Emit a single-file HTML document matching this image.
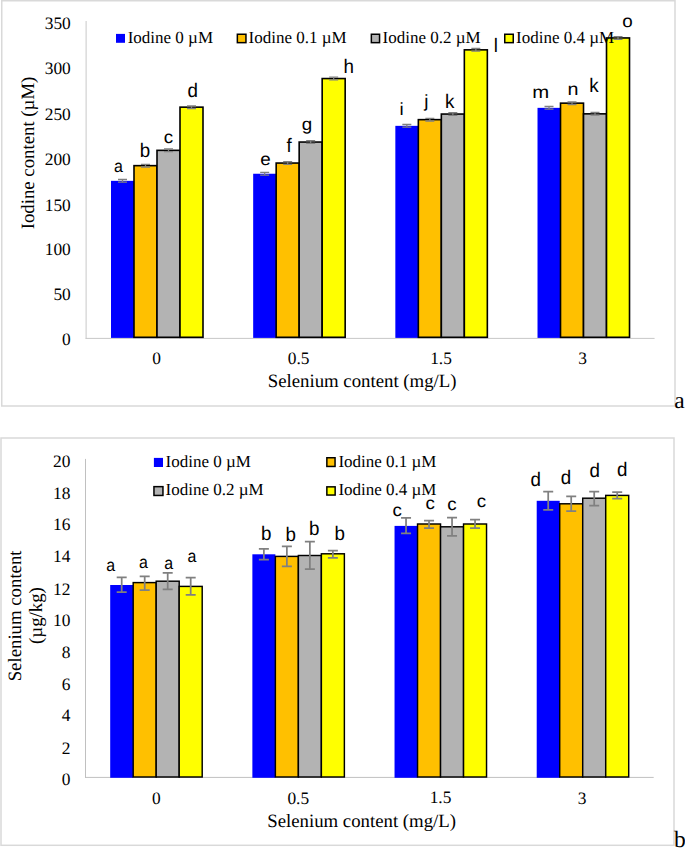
<!DOCTYPE html><html><head><meta charset="utf-8"><style>html,body{margin:0;padding:0;background:#fff;}body{width:685px;height:848px;overflow:hidden;}svg{display:block;text-rendering:geometricPrecision}</style></head><body>
<svg width="685" height="848" viewBox="0 0 685 848">
<rect width="685" height="848" fill="#fff"/>
<rect x="1.75" y="0.75" width="673.25" height="405.25" fill="none" stroke="#d9d9d9" stroke-width="1.5"/>
<line x1="86.1" y1="21.0" x2="86.1" y2="338.9" stroke="#c8c8c8" stroke-width="1"/>
<line x1="85.6" y1="338.4" x2="654.6" y2="338.4" stroke="#c8c8c8" stroke-width="1"/>
<rect x="111.00" y="180.85" width="23.00" height="157.05" fill="#0000ff"/>
<rect x="134.00" y="165.65" width="23.00" height="171.65" fill="#ffc000" stroke="#000" stroke-width="1.6"/>
<rect x="157.00" y="150.35" width="23.00" height="186.95" fill="#b3b3b3" stroke="#000" stroke-width="1.6"/>
<rect x="180.00" y="107.15" width="23.00" height="230.15" fill="#ffff00" stroke="#000" stroke-width="1.6"/>
<rect x="253.17" y="173.75" width="23.00" height="164.15" fill="#0000ff"/>
<rect x="276.17" y="163.05" width="23.00" height="174.25" fill="#ffc000" stroke="#000" stroke-width="1.6"/>
<rect x="299.17" y="142.05" width="23.00" height="195.25" fill="#b3b3b3" stroke="#000" stroke-width="1.6"/>
<rect x="322.17" y="78.55" width="23.00" height="258.75" fill="#ffff00" stroke="#000" stroke-width="1.6"/>
<rect x="395.34" y="125.85" width="23.00" height="212.05" fill="#0000ff"/>
<rect x="418.34" y="119.65" width="23.00" height="217.65" fill="#ffc000" stroke="#000" stroke-width="1.6"/>
<rect x="441.34" y="114.05" width="23.00" height="223.25" fill="#b3b3b3" stroke="#000" stroke-width="1.6"/>
<rect x="464.34" y="49.85" width="23.00" height="287.45" fill="#ffff00" stroke="#000" stroke-width="1.6"/>
<rect x="537.51" y="107.85" width="23.00" height="230.05" fill="#0000ff"/>
<rect x="560.51" y="103.15" width="23.00" height="234.15" fill="#ffc000" stroke="#000" stroke-width="1.6"/>
<rect x="583.51" y="113.85" width="23.00" height="223.45" fill="#b3b3b3" stroke="#000" stroke-width="1.6"/>
<rect x="606.51" y="37.95" width="23.00" height="299.35" fill="#ffff00" stroke="#000" stroke-width="1.6"/>
<path d="M118.00 179.5H127.00M118.00 182.2H127.00M122.50 179.5V182.2" stroke="#808080" stroke-width="1.3" fill="none"/>
<path d="M141.00 164.3H150.00M141.00 167.0H150.00M145.50 164.3V167.0" stroke="#808080" stroke-width="1.3" fill="none"/>
<path d="M164.00 149.0H173.00M164.00 151.7H173.00M168.50 149.0V151.7" stroke="#808080" stroke-width="1.3" fill="none"/>
<path d="M187.00 105.8H196.00M187.00 108.5H196.00M191.50 105.8V108.5" stroke="#808080" stroke-width="1.3" fill="none"/>
<path d="M260.17 172.4H269.17M260.17 175.1H269.17M264.67 172.4V175.1" stroke="#808080" stroke-width="1.3" fill="none"/>
<path d="M283.17 161.7H292.17M283.17 164.4H292.17M287.67 161.7V164.4" stroke="#808080" stroke-width="1.3" fill="none"/>
<path d="M306.17 140.7H315.17M306.17 143.4H315.17M310.67 140.7V143.4" stroke="#808080" stroke-width="1.3" fill="none"/>
<path d="M329.17 77.2H338.17M329.17 79.9H338.17M333.67 77.2V79.9" stroke="#808080" stroke-width="1.3" fill="none"/>
<path d="M402.34 124.5H411.34M402.34 127.2H411.34M406.84 124.5V127.2" stroke="#808080" stroke-width="1.3" fill="none"/>
<path d="M425.34 118.3H434.34M425.34 121.0H434.34M429.84 118.3V121.0" stroke="#808080" stroke-width="1.3" fill="none"/>
<path d="M448.34 112.7H457.34M448.34 115.4H457.34M452.84 112.7V115.4" stroke="#808080" stroke-width="1.3" fill="none"/>
<path d="M471.34 48.5H480.34M471.34 51.2H480.34M475.84 48.5V51.2" stroke="#808080" stroke-width="1.3" fill="none"/>
<path d="M544.51 106.5H553.51M544.51 109.2H553.51M549.01 106.5V109.2" stroke="#808080" stroke-width="1.3" fill="none"/>
<path d="M567.51 101.8H576.51M567.51 104.5H576.51M572.01 101.8V104.5" stroke="#808080" stroke-width="1.3" fill="none"/>
<path d="M590.51 112.5H599.51M590.51 115.2H599.51M595.01 112.5V115.2" stroke="#808080" stroke-width="1.3" fill="none"/>
<path d="M613.51 36.6H622.51M613.51 39.3H622.51M618.01 36.6V39.3" stroke="#808080" stroke-width="1.3" fill="none"/>
<rect x="116" y="33.9" width="9" height="8.899999999999999" fill="#0000ff"/>
<rect x="237.35" y="34.25" width="8.599999999999994" height="8.399999999999999" fill="#ffc000" stroke="#000" stroke-width="1.5"/>
<rect x="371.35" y="34.25" width="8.199999999999989" height="8.399999999999999" fill="#b3b3b3" stroke="#000" stroke-width="1.5"/>
<rect x="504.75" y="34.25" width="8.5" height="8.399999999999999" fill="#ffff00" stroke="#000" stroke-width="1.5"/>
<rect x="1" y="438" width="673" height="407.29999999999995" fill="none" stroke="#d9d9d9" stroke-width="1.5"/>
<line x1="85.5" y1="458.9" x2="85.5" y2="777.9" stroke="#c0c0c0" stroke-width="1"/>
<line x1="85.0" y1="777.4" x2="653.7" y2="777.4" stroke="#c0c0c0" stroke-width="1"/>
<rect x="110.20" y="585.0" width="23.00" height="192.80" fill="#0000ff"/>
<rect x="133.20" y="582.6" width="23.00" height="194.40" fill="#ffc000" stroke="#000" stroke-width="1.45"/>
<rect x="156.20" y="581.2" width="23.00" height="195.80" fill="#b3b3b3" stroke="#000" stroke-width="1.45"/>
<rect x="179.20" y="586.4" width="23.00" height="190.60" fill="#ffff00" stroke="#000" stroke-width="1.45"/>
<rect x="252.37" y="554.3" width="23.00" height="223.50" fill="#0000ff"/>
<rect x="275.37" y="556.4" width="23.00" height="220.60" fill="#ffc000" stroke="#000" stroke-width="1.45"/>
<rect x="298.37" y="555.5" width="23.00" height="221.50" fill="#b3b3b3" stroke="#000" stroke-width="1.45"/>
<rect x="321.37" y="553.8" width="23.00" height="223.20" fill="#ffff00" stroke="#000" stroke-width="1.45"/>
<rect x="394.54" y="525.9" width="23.00" height="251.90" fill="#0000ff"/>
<rect x="417.54" y="524.0" width="23.00" height="253.00" fill="#ffc000" stroke="#000" stroke-width="1.45"/>
<rect x="440.54" y="526.8" width="23.00" height="250.20" fill="#b3b3b3" stroke="#000" stroke-width="1.45"/>
<rect x="463.54" y="524.0" width="23.00" height="253.00" fill="#ffff00" stroke="#000" stroke-width="1.45"/>
<rect x="536.71" y="500.8" width="23.00" height="277.00" fill="#0000ff"/>
<rect x="559.71" y="503.8" width="23.00" height="273.20" fill="#ffc000" stroke="#000" stroke-width="1.45"/>
<rect x="582.71" y="498.2" width="23.00" height="278.80" fill="#b3b3b3" stroke="#000" stroke-width="1.45"/>
<rect x="605.71" y="495.4" width="23.00" height="281.60" fill="#ffff00" stroke="#000" stroke-width="1.45"/>
<path d="M116.70 577.3H126.70M116.70 592.0H126.70M121.70 577.3V592.0" stroke="#808080" stroke-width="1.75" fill="none"/>
<path d="M139.70 576.3H149.70M139.70 590.0H149.70M144.70 576.3V590.0" stroke="#808080" stroke-width="1.75" fill="none"/>
<path d="M162.70 572.8H172.70M162.70 589.4H172.70M167.70 572.8V589.4" stroke="#808080" stroke-width="1.75" fill="none"/>
<path d="M185.70 577.7H195.70M185.70 594.8H195.70M190.70 577.7V594.8" stroke="#808080" stroke-width="1.75" fill="none"/>
<path d="M258.87 548.9H268.87M258.87 559.6H268.87M263.87 548.9V559.6" stroke="#808080" stroke-width="1.75" fill="none"/>
<path d="M281.87 546.4H291.87M281.87 566.4H291.87M286.87 546.4V566.4" stroke="#808080" stroke-width="1.75" fill="none"/>
<path d="M304.87 541.7H314.87M304.87 569.2H314.87M309.87 541.7V569.2" stroke="#808080" stroke-width="1.75" fill="none"/>
<path d="M327.87 550.6H337.87M327.87 557.8H337.87M332.87 550.6V557.8" stroke="#808080" stroke-width="1.75" fill="none"/>
<path d="M401.04 517.9H411.04M401.04 533.3H411.04M406.04 517.9V533.3" stroke="#808080" stroke-width="1.75" fill="none"/>
<path d="M424.04 520.5H434.04M424.04 528.0H434.04M429.04 520.5V528.0" stroke="#808080" stroke-width="1.75" fill="none"/>
<path d="M447.04 517.5H457.04M447.04 535.9H457.04M452.04 517.5V535.9" stroke="#808080" stroke-width="1.75" fill="none"/>
<path d="M470.04 519.6H480.04M470.04 528.0H480.04M475.04 519.6V528.0" stroke="#808080" stroke-width="1.75" fill="none"/>
<path d="M543.21 491.5H553.21M543.21 509.9H553.21M548.21 491.5V509.9" stroke="#808080" stroke-width="1.75" fill="none"/>
<path d="M566.21 496.4H576.21M566.21 511.2H576.21M571.21 496.4V511.2" stroke="#808080" stroke-width="1.75" fill="none"/>
<path d="M589.21 491.5H599.21M589.21 505.5H599.21M594.21 491.5V505.5" stroke="#808080" stroke-width="1.75" fill="none"/>
<path d="M612.21 492.0H622.21M612.21 498.5H622.21M617.21 492.0V498.5" stroke="#808080" stroke-width="1.75" fill="none"/>
<rect x="153.9" y="457.9" width="9.099999999999994" height="9.100000000000023" fill="#0000ff"/>
<rect x="326.85" y="457.75" width="8.199999999999989" height="8.699999999999989" fill="#ffc000" stroke="#000" stroke-width="1.5"/>
<rect x="153.95" y="486.65" width="9.0" height="8.800000000000011" fill="#b3b3b3" stroke="#000" stroke-width="1.5"/>
<rect x="326.85" y="486.85" width="8.299999999999955" height="8.199999999999989" fill="#ffff00" stroke="#000" stroke-width="1.5"/>
<text id="Ayt0" x="70.80" y="345.30" font-family="Liberation Serif" font-size="17.4" text-anchor="end">0</text>
<text id="Ayt1" x="70.80" y="300.41" font-family="Liberation Serif" font-size="17.4" text-anchor="end">50</text>
<text id="Ayt2" x="70.80" y="254.52" font-family="Liberation Serif" font-size="17.4" text-anchor="end">100</text>
<text id="Ayt3" x="70.80" y="210.63" font-family="Liberation Serif" font-size="17.4" text-anchor="end">150</text>
<text id="Ayt4" x="70.80" y="164.74" font-family="Liberation Serif" font-size="17.4" text-anchor="end">200</text>
<text id="Ayt5" x="70.80" y="119.85" font-family="Liberation Serif" font-size="17.4" text-anchor="end">250</text>
<text id="Ayt6" x="70.80" y="73.96" font-family="Liberation Serif" font-size="17.4" text-anchor="end">300</text>
<text id="Ayt7" x="70.80" y="29.07" font-family="Liberation Serif" font-size="17.4" text-anchor="end">350</text>
<text id="Alb0" x="118.35" y="171.90" font-family="Liberation Sans" font-size="18.8" text-anchor="middle" transform="translate(118.35 171.90) scale(0.85 0.93) translate(-118.35 -171.90)">a</text>
<text id="Alb1" x="145.10" y="156.90" font-family="Liberation Sans" font-size="18.8" text-anchor="middle" transform="translate(145.10 156.90) scale(1.0 1.04) translate(-145.10 -156.90)">b</text>
<text id="Alb2" x="168.55" y="142.60" font-family="Liberation Sans" font-size="18.8" text-anchor="middle" transform="translate(168.55 142.60) scale(1.0 0.93) translate(-168.55 -142.60)">c</text>
<text id="Alb3" x="192.85" y="96.50" font-family="Liberation Sans" font-size="18.8" text-anchor="middle" transform="translate(192.85 96.50) scale(1.0 1.04) translate(-192.85 -96.50)">d</text>
<text id="Alb4" x="265.50" y="165.10" font-family="Liberation Sans" font-size="18.8" text-anchor="middle" transform="translate(265.50 165.10) scale(1.0 0.93) translate(-265.50 -165.10)">e</text>
<text id="Alb5" x="289.20" y="151.60" font-family="Liberation Sans" font-size="18.8" text-anchor="middle" transform="translate(289.20 151.60) scale(1.0 1.04) translate(-289.20 -151.60)">f</text>
<text id="Alb6" x="306.90" y="130.10" font-family="Liberation Sans" font-size="18.8" text-anchor="middle" transform="translate(306.90 130.10) scale(1.0 0.93) translate(-306.90 -130.10)">g</text>
<text id="Alb7" x="348.75" y="72.60" font-family="Liberation Sans" font-size="18.8" text-anchor="middle" transform="translate(348.75 72.60) scale(1.0 1.04) translate(-348.75 -72.60)">h</text>
<text id="Alb8" x="401.55" y="114.90" font-family="Liberation Sans" font-size="18.8" text-anchor="middle" transform="translate(401.55 114.90) scale(1.0 0.93) translate(-401.55 -114.90)">i</text>
<text id="Alb9" x="426.25" y="106.80" font-family="Liberation Sans" font-size="18.8" text-anchor="middle" transform="translate(426.25 106.80) scale(1.0 0.93) translate(-426.25 -106.80)">j</text>
<text id="Alb10" x="449.65" y="107.80" font-family="Liberation Sans" font-size="18.8" text-anchor="middle" transform="translate(449.65 107.80) scale(1.0 1.04) translate(-449.65 -107.80)">k</text>
<text id="Alb11" x="495.95" y="51.60" font-family="Liberation Sans" font-size="18.8" text-anchor="middle" transform="translate(495.95 51.60) scale(1.0 1.04) translate(-495.95 -51.60)">l</text>
<text id="Alb12" x="540.70" y="97.90" font-family="Liberation Sans" font-size="18.8" text-anchor="middle" transform="translate(540.70 97.90) scale(1.08 0.93) translate(-540.70 -97.90)">m</text>
<text id="Alb13" x="573.05" y="95.20" font-family="Liberation Sans" font-size="18.8" text-anchor="middle" transform="translate(573.05 95.20) scale(1.05 0.93) translate(-573.05 -95.20)">n</text>
<text id="Alb14" x="593.90" y="91.90" font-family="Liberation Sans" font-size="18.8" text-anchor="middle" transform="translate(593.90 91.90) scale(1.0 1.04) translate(-593.90 -91.90)">k</text>
<text id="Alb15" x="627.50" y="26.80" font-family="Liberation Sans" font-size="18.8" text-anchor="middle" transform="translate(627.50 26.80) scale(1.0 0.93) translate(-627.50 -26.80)">o</text>
<text id="Acat0" x="156.70" y="364.00" font-family="Liberation Serif" font-size="17.4" text-anchor="middle">0</text>
<text id="Acat1" x="298.70" y="364.00" font-family="Liberation Serif" font-size="17.4" text-anchor="middle">0.5</text>
<text id="Acat2" x="441.05" y="363.90" font-family="Liberation Serif" font-size="17.4" text-anchor="middle">1.5</text>
<text id="Acat3" x="582.60" y="363.60" font-family="Liberation Serif" font-size="17.4" text-anchor="middle">3</text>
<text id="Axt" x="362.10" y="386.70" font-family="Liberation Serif" font-size="18.8" text-anchor="middle">Selenium content (mg/L)</text>
<text id="Ayti0" x="33.80" y="153.00" font-family="Liberation Serif" font-size="18.8" text-anchor="middle" transform="rotate(-90 33.80 153.00)">Iodine content (µM)</text>
<text id="Alg0" x="127.70" y="42.60" font-family="Liberation Serif" font-size="17">Iodine 0 µM</text>
<text id="Alg1" x="248.60" y="42.60" font-family="Liberation Serif" font-size="17">Iodine 0.1 µM</text>
<text id="Alg2" x="382.50" y="42.60" font-family="Liberation Serif" font-size="17">Iodine 0.2 µM</text>
<text id="Alg3" x="516.00" y="42.60" font-family="Liberation Serif" font-size="17">Iodine 0.4 µM</text>
<text id="Byt0" x="70.50" y="785.10" font-family="Liberation Serif" font-size="17.4" text-anchor="end">0</text>
<text id="Byt1" x="70.50" y="754.08" font-family="Liberation Serif" font-size="17.4" text-anchor="end">2</text>
<text id="Byt2" x="70.50" y="721.06" font-family="Liberation Serif" font-size="17.4" text-anchor="end">4</text>
<text id="Byt3" x="70.50" y="690.04" font-family="Liberation Serif" font-size="17.4" text-anchor="end">6</text>
<text id="Byt4" x="70.50" y="658.02" font-family="Liberation Serif" font-size="17.4" text-anchor="end">8</text>
<text id="Byt5" x="70.50" y="626.00" font-family="Liberation Serif" font-size="17.4" text-anchor="end">10</text>
<text id="Byt6" x="70.50" y="594.98" font-family="Liberation Serif" font-size="17.4" text-anchor="end">12</text>
<text id="Byt7" x="70.50" y="561.96" font-family="Liberation Serif" font-size="17.4" text-anchor="end">14</text>
<text id="Byt8" x="70.50" y="529.94" font-family="Liberation Serif" font-size="17.4" text-anchor="end">16</text>
<text id="Byt9" x="70.50" y="498.92" font-family="Liberation Serif" font-size="17.4" text-anchor="end">18</text>
<text id="Byt10" x="70.50" y="466.90" font-family="Liberation Serif" font-size="17.4" text-anchor="end">20</text>
<text id="Blb0" x="110.65" y="570.70" font-family="Liberation Sans" font-size="18.8" text-anchor="middle" transform="translate(110.65 570.70) scale(0.85 0.93) translate(-110.65 -570.70)">a</text>
<text id="Blb1" x="143.35" y="567.80" font-family="Liberation Sans" font-size="18.8" text-anchor="middle" transform="translate(143.35 567.80) scale(0.85 0.93) translate(-143.35 -567.80)">a</text>
<text id="Blb2" x="168.65" y="569.40" font-family="Liberation Sans" font-size="18.8" text-anchor="middle" transform="translate(168.65 569.40) scale(0.85 0.93) translate(-168.65 -569.40)">a</text>
<text id="Blb3" x="191.90" y="562.40" font-family="Liberation Sans" font-size="18.8" text-anchor="middle" transform="translate(191.90 562.40) scale(0.85 0.93) translate(-191.90 -562.40)">a</text>
<text id="Blb4" x="266.35" y="540.10" font-family="Liberation Sans" font-size="18.8" text-anchor="middle" transform="translate(266.35 540.10) scale(1.0 1.04) translate(-266.35 -540.10)">b</text>
<text id="Blb5" x="290.85" y="540.60" font-family="Liberation Sans" font-size="18.8" text-anchor="middle" transform="translate(290.85 540.60) scale(1.0 1.04) translate(-290.85 -540.60)">b</text>
<text id="Blb6" x="314.20" y="534.50" font-family="Liberation Sans" font-size="18.8" text-anchor="middle" transform="translate(314.20 534.50) scale(1.0 1.04) translate(-314.20 -534.50)">b</text>
<text id="Blb7" x="339.85" y="539.50" font-family="Liberation Sans" font-size="18.8" text-anchor="middle" transform="translate(339.85 539.50) scale(1.0 1.04) translate(-339.85 -539.50)">b</text>
<text id="Blb8" x="397.25" y="515.50" font-family="Liberation Sans" font-size="18.8" text-anchor="middle" transform="translate(397.25 515.50) scale(1.0 0.93) translate(-397.25 -515.50)">c</text>
<text id="Blb9" x="430.20" y="508.50" font-family="Liberation Sans" font-size="18.8" text-anchor="middle" transform="translate(430.20 508.50) scale(1.0 0.93) translate(-430.20 -508.50)">c</text>
<text id="Blb10" x="451.85" y="509.70" font-family="Liberation Sans" font-size="18.8" text-anchor="middle" transform="translate(451.85 509.70) scale(1.0 0.93) translate(-451.85 -509.70)">c</text>
<text id="Blb11" x="481.35" y="507.20" font-family="Liberation Sans" font-size="18.8" text-anchor="middle" transform="translate(481.35 507.20) scale(1.0 0.93) translate(-481.35 -507.20)">c</text>
<text id="Blb12" x="535.75" y="486.10" font-family="Liberation Sans" font-size="18.8" text-anchor="middle" transform="translate(535.75 486.10) scale(1.0 1.04) translate(-535.75 -486.10)">d</text>
<text id="Blb13" x="566.05" y="483.60" font-family="Liberation Sans" font-size="18.8" text-anchor="middle" transform="translate(566.05 483.60) scale(1.0 1.04) translate(-566.05 -483.60)">d</text>
<text id="Blb14" x="594.65" y="476.70" font-family="Liberation Sans" font-size="18.8" text-anchor="middle" transform="translate(594.65 476.70) scale(1.0 1.04) translate(-594.65 -476.70)">d</text>
<text id="Blb15" x="622.25" y="476.20" font-family="Liberation Sans" font-size="18.8" text-anchor="middle" transform="translate(622.25 476.20) scale(1.0 1.04) translate(-622.25 -476.20)">d</text>
<text id="Bcat0" x="156.45" y="803.80" font-family="Liberation Serif" font-size="17.4" text-anchor="middle">0</text>
<text id="Bcat1" x="298.30" y="804.00" font-family="Liberation Serif" font-size="17.4" text-anchor="middle">0.5</text>
<text id="Bcat2" x="440.55" y="803.20" font-family="Liberation Serif" font-size="17.4" text-anchor="middle">1.5</text>
<text id="Bcat3" x="582.20" y="803.50" font-family="Liberation Serif" font-size="17.4" text-anchor="middle">3</text>
<text id="Bxt" x="361.60" y="826.50" font-family="Liberation Serif" font-size="18.8" text-anchor="middle">Selenium content (mg/L)</text>
<text id="Byti0" x="20.70" y="615.90" font-family="Liberation Serif" font-size="18.8" text-anchor="middle" transform="rotate(-90 20.70 615.90)">Selenium content</text>
<text id="Byti1" x="42.40" y="615.55" font-family="Liberation Serif" font-size="18.8" text-anchor="middle" transform="rotate(-90 42.40 615.55)">(µg/kg)</text>
<text id="Blg0" x="165.60" y="467.10" font-family="Liberation Serif" font-size="17">Iodine 0 µM</text>
<text id="Blg1" x="338.40" y="467.10" font-family="Liberation Serif" font-size="17">Iodine 0.1 µM</text>
<text id="Blg2" x="165.50" y="495.40" font-family="Liberation Serif" font-size="17">Iodine 0.2 µM</text>
<text id="Blg3" x="338.40" y="495.40" font-family="Liberation Serif" font-size="17">Iodine 0.4 µM</text>
<text id="pa" x="674.30" y="407.90" font-family="Liberation Serif" font-size="23.5">a</text>
<text id="pb" x="673.90" y="847.20" font-family="Liberation Serif" font-size="23.5">b</text>
</svg></body></html>
